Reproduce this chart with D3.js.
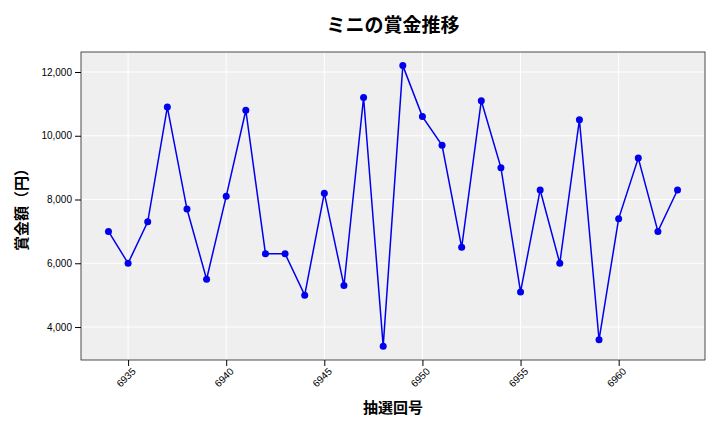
<!DOCTYPE html>
<html><head><meta charset="utf-8">
<script src="https://cdn.jsdelivr.net/npm/d3@7"></script>
<style>body{margin:0;background:#fff;font-family:"Noto Sans CJK JP","Noto Sans",sans-serif}</style>
</head><body><div id="chart"></div>
<script>
const draws = d3.range(6934, 6964)
const prizes = [7000,6000,7300,10900,7700,5500,8100,10800,6300,6300,5000,8200,5300,11200,3400,12200,10600,9700,6500,11100,9000,5100,8300,6000,10500,3600,7400,9300,7000,8300]
const xTicks = [6935,6940,6945,6950,6955,6960]
const yTicks = [4000,6000,8000,10000,12000]

const width = 720, height = 432
const margin = {top: 52, bottom: 72, left: 81, right: 15}
const svg = d3.select("#chart").append("svg").attr("width", width).attr("height", height)

const x = d3.scaleLinear().domain([6932.6, 6964.4]).range([margin.left, width - margin.right])
const y = d3.scaleLinear().domain([2966, 12627]).range([height - margin.bottom, margin.top])

svg.append("rect").attr("x", margin.left).attr("y", margin.top)
    .attr("width", width - margin.left - margin.right).attr("height", height - margin.top - margin.bottom)
    .attr("fill", "#efefef")

const grid = svg.append("g").attr("stroke", "#fff").attr("stroke-width", 1)
xTicks.forEach(t => grid.append("line").attr("x1", x(t)).attr("x2", x(t)).attr("y1", margin.top).attr("y2", height - margin.bottom))
yTicks.forEach(t => grid.append("line").attr("y1", y(t)).attr("y2", y(t)).attr("x1", margin.left).attr("x2", width - margin.right))

svg.append("rect").attr("x", margin.left).attr("y", margin.top)
    .attr("width", width - margin.left - margin.right).attr("height", height - margin.top - margin.bottom)
    .attr("fill", "none").attr("stroke", "#222").attr("stroke-width", 0.8)

const xAxis = svg.append("g").attr("transform", `translate(0,${height - margin.bottom})`)
    .call(d3.axisBottom(x).tickValues(xTicks).tickFormat(d3.format("d")).tickSizeOuter(0))
xAxis.select(".domain").remove()
xAxis.selectAll("text").attr("font-size", 10).attr("text-anchor", "end")
    .attr("transform", "rotate(-45)").attr("dx", "-0.3em").attr("dy", "0.5em")

const yAxis = svg.append("g").attr("transform", `translate(${margin.left},0)`)
    .call(d3.axisLeft(y).tickValues(yTicks).tickFormat(d3.format(",")).tickSizeOuter(0))
yAxis.select(".domain").remove()
yAxis.selectAll("text").attr("font-size", 10)

const line = d3.line().x((d, i) => x(draws[i])).y(d => y(d))
svg.append("path").datum(prizes).attr("d", line).attr("fill", "none").attr("stroke", "#0000ee").attr("stroke-width", 1.5)
svg.selectAll("circle.pt").data(prizes).enter().append("circle")
    .attr("cx", (d, i) => x(draws[i])).attr("cy", d => y(d)).attr("r", 3.5).attr("fill", "#0000ee")

svg.append("text").attr("x", 393).attr("y", 32).attr("text-anchor", "middle")
    .attr("font-size", 19).attr("font-weight", "bold").text("ミニの賞金推移")
svg.append("text").attr("x", 393).attr("y", 413).attr("text-anchor", "middle")
    .attr("font-size", 15).attr("font-weight", "bold").text("抽選回号")
svg.append("text").attr("transform", `translate(27,${(margin.top + height - margin.bottom) / 2}) rotate(-90)`)
    .attr("text-anchor", "middle").attr("font-size", 15).attr("font-weight", "bold").text("賞金額（円）")
</script></body></html>
